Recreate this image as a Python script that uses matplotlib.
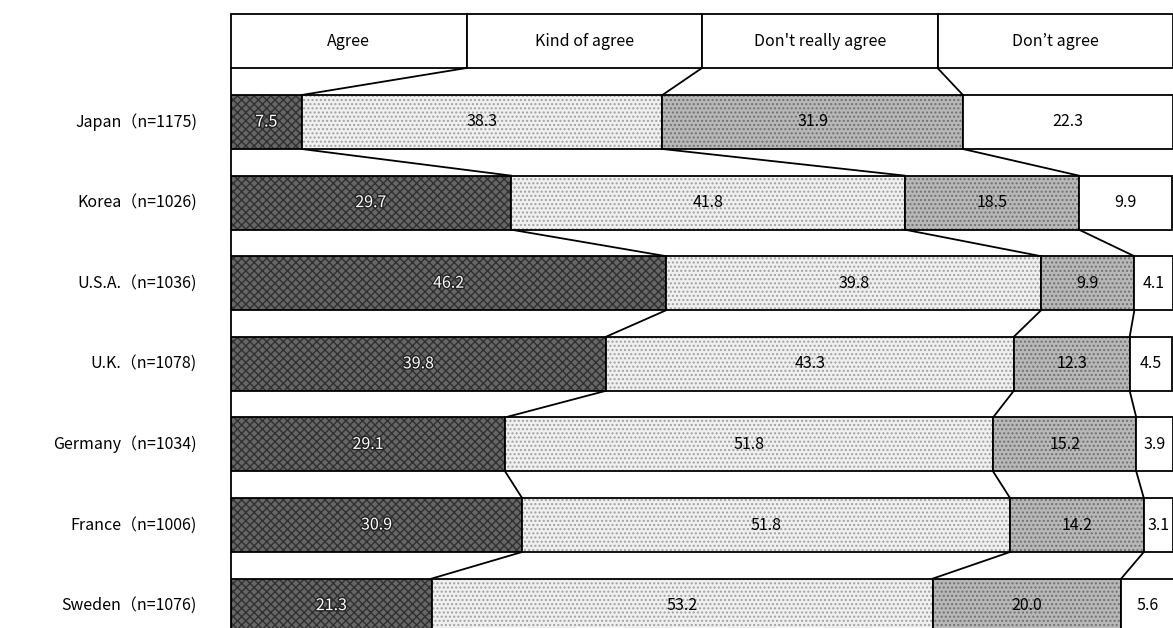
import matplotlib.pyplot as plt
import matplotlib.patheffects as pe
import numpy as np

plt.rcParams['font.family'] = ['Noto Sans CJK JP', 'DejaVu Sans']

# datos
categorias = ["Agree", "Kind of agree", "Don't really agree", "Don’t agree"]
paises = ["Japan", "Korea", "U.S.A.", "U.K.", "Germany", "France", "Sweden"]
n_muestra = [1175, 1026, 1036, 1078, 1034, 1006, 1076]
agree = [7.5, 29.7, 46.2, 39.8, 29.1, 30.9, 21.3]
kind_of_agree = [38.3, 41.8, 39.8, 43.3, 51.8, 51.8, 53.2]
dont_really = [31.9, 18.5, 9.9, 12.3, 15.2, 14.2, 20.0]
dont_agree = [22.3, 9.9, 4.1, 4.5, 3.9, 3.1, 5.6]

series = [agree, kind_of_agree, dont_really, dont_agree]
colores = ['#666666', '#f0f0f0', '#b8b8b8', 'white']
hatch_col = ['#303030', '#a0a0a0', '#707070', 'white']
hatches = ['xxxx', '....', '....', None]

# layout en pixeles (eje y invertido)
W, H = 1173, 628
head_top, head_bot = 14, 68
bar_top0, paso, alto = 95, 80.6, 54

fig = plt.figure(figsize=(W / 100, H / 100), dpi=100)
ax = fig.add_axes([231 / W, 0, 942 / W, 1])
ax.set_xlim(0, 100)
ax.set_ylim(H, 0)
ax.axis('off')

lw = 1.3
fs = 11.5
# cabecera
for i, cat in enumerate(categorias):
    ax.add_patch(plt.Rectangle((25 * i, head_top), 25, head_bot - head_top,
                               facecolor='white', edgecolor='black', lw=lw, clip_on=False))
    ax.text(25 * i + 12.5, (head_top + head_bot) / 2, cat, ha='center', va='center', fontsize=fs)

tops = [bar_top0 + paso * k for k in range(len(paises))]

# borde izquierdo
ax.plot([0, 0], [head_bot, H], color='black', lw=lw, clip_on=False)

datos = np.array(series)
acum = np.cumsum(datos, axis=0)
izq = acum - datos

for k, pais in enumerate(paises):
    y0 = tops[k]
    for s in range(4):
        # relleno con textura
        ax.barh(y0 + alto / 2, datos[s][k], left=izq[s][k], height=alto,
                color=colores[s], hatch=hatches[s], edgecolor=hatch_col[s], lw=0)
        ax.barh(y0 + alto / 2, datos[s][k], left=izq[s][k], height=alto,
                fill=False, edgecolor='black', lw=lw)
        xc = izq[s][k] + datos[s][k] / 2
        if s == 0:
            ax.text(xc, y0 + alto / 2, f"{datos[s][k]:.1f}", ha='center', va='center',
                    fontsize=fs, color='white',
                    path_effects=[pe.withStroke(linewidth=2, foreground='#222222')])
        else:
            ax.text(xc, y0 + alto / 2, f"{datos[s][k]:.1f}", ha='center', va='center',
                    fontsize=fs, color='black')
    ax.text(-3.6, y0 + alto / 2, f"{pais}（n={n_muestra[k]})", ha='right', va='center',
            fontsize=fs, clip_on=False)

# lineas de conexion
for j in range(3):
    ax.plot([25 * (j + 1), acum[j][0]], [head_bot, tops[0]], color='black', lw=lw)
    for k in range(len(paises) - 1):
        ax.plot([acum[j][k], acum[j][k + 1]], [tops[k] + alto, tops[k + 1]], color='black', lw=lw)

fig.savefig('out.png', dpi=100)
